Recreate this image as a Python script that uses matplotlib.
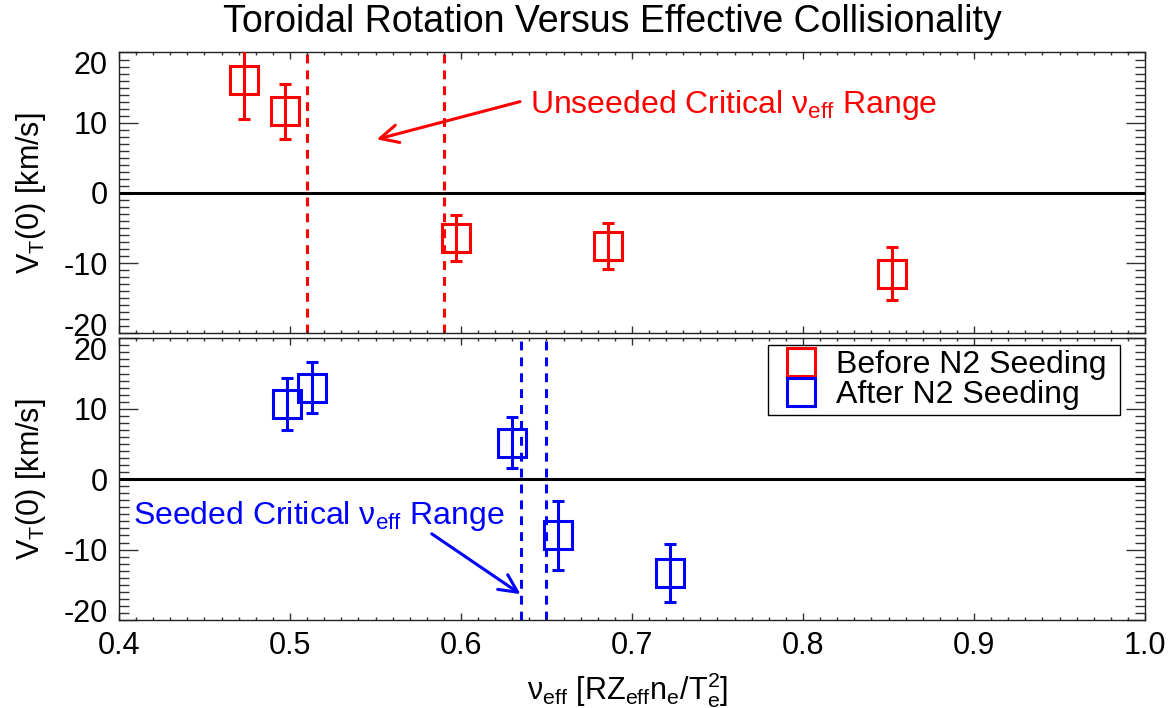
import matplotlib
matplotlib.use("Agg")
import matplotlib.pyplot as plt
import matplotlib.transforms as mtransforms
from matplotlib.lines import Line2D

plt.rcParams['font.family'] = ['Liberation Sans', 'DejaVu Sans']
plt.rcParams['mathtext.fontset'] = 'custom'
plt.rcParams['mathtext.rm'] = 'Liberation Sans'
plt.rcParams['mathtext.it'] = 'Liberation Sans:italic'
plt.rcParams['mathtext.bf'] = 'Liberation Sans:bold'
plt.rcParams['axes.unicode_minus'] = False

# ---- data ----
before_x = [0.473, 0.497, 0.597, 0.686, 0.852]
before_y = [16.1, 11.6, -6.4, -7.6, -11.5]
before_err = [5.6, 3.9, 3.3, 3.3, 3.8]

after_x = [0.498, 0.513, 0.630, 0.657, 0.722]
after_y = [10.7, 13.0, 5.2, -8.0, -13.3]
after_err = [3.7, 3.6, 3.6, 4.9, 4.1]

unseeded_range = [0.51, 0.59]
seeded_range = [0.635, 0.65]

x_ticks = [0.4, 0.5, 0.6, 0.7, 0.8, 0.9, 1.0]
x_ticklabels = ['0.4', '0.5', '0.6', '0.7', '0.8', '0.9', '1.0']
y_ticks = [-20, -10, 0, 10, 20]
y_ticklabels = ['-20', '-10', '0', '10', '20']

title = 'Toroidal Rotation Versus Effective Collisionality'
ylabel = r'V$_\mathrm{T}$(0) [km/s]'
xlabel = r'ν$_\mathrm{eff}$ [RZ$_\mathrm{eff}$n$_\mathrm{e}$/T$_\mathrm{e}^\mathrm{2}$]'
legend_labels = ['Before N2 Seeding ', 'After N2 Seeding ']
unseeded_text = r'Unseeded Critical ν$_\mathrm{eff}$ Range'
seeded_text = r'Seeded Critical ν$_\mathrm{eff}$ Range'

RED = '#ff0000'
BLUE = '#0000ff'
FS = 22

fig = plt.figure(figsize=(11.75, 7.08), dpi=100)
W, H = 1175, 708
ax1 = fig.add_axes([119 / W, 1 - 333.3 / H, 1026 / W, (333.3 - 52.5) / H])
ax2 = fig.add_axes([119 / W, 1 - 620 / H, 1026 / W, (620 - 338.3) / H])

MS = 19.5
LW = 2.2

def style(ax, show_x):
    ax.set_xlim(0.4, 1.0)
    ax.set_ylim(-20, 20)
    ax.set_xticks(x_ticks)
    ax.set_yticks(y_ticks)
    ax.set_yticklabels(y_ticklabels)
    if show_x:
        ax.set_xticklabels(x_ticklabels)
    ax.set_xticks([0.4 + 0.01 * i for i in range(61)], minor=True)
    ax.set_yticks(list(range(-20, 21)), minor=True)
    ax.tick_params(axis='both', which='both', direction='in', top=True, right=True,
                   labelsize=FS, pad=8, color='#333333')
    ax.tick_params(axis='y', which='major', length=14, width=1)
    ax.tick_params(axis='y', which='minor', length=7, width=1)
    ax.tick_params(axis='x', which='major', length=5, width=1)
    ax.tick_params(axis='x', which='minor', length=2.5, width=1)
    ax.tick_params(axis='x', labelbottom=show_x)
    for s in ax.spines.values():
        s.set_linewidth(1.0)
        s.set_color('#222222')
    ax.axhline(0, color='black', lw=2.2, zorder=2)
    ax.set_ylabel(ylabel, fontsize=FS, va='center')
    ax.yaxis.set_label_coords(-0.0858, 0.5)

style(ax1, False)
style(ax2, True)

for xv in unseeded_range:
    ax1.axvline(xv, color=RED, lw=LW, dashes=(2.9, 2.3), zorder=1)
for xv in seeded_range:
    ax2.axvline(xv, color=BLUE, lw=LW, dashes=(2.9, 2.3), zorder=1)

ax1.errorbar(before_x, before_y, yerr=before_err, fmt='s', ms=MS, mfc='none',
             mec=RED, mew=LW, ecolor=RED, elinewidth=LW, capsize=4.3, capthick=LW, zorder=3)
ax2.errorbar(after_x, after_y, yerr=after_err, fmt='s', ms=MS, mfc='none',
             mec=BLUE, mew=LW, ecolor=BLUE, elinewidth=LW, capsize=4.3, capthick=LW, zorder=3)

# annotations
ax1.text(0.6404, 11.39, unseeded_text, color=RED, fontsize=23, ha='left', va='baseline')
ax1.annotate('', xy=(0.5507, 7.63), xytext=(0.6345, 13.0),
             arrowprops=dict(arrowstyle='->,head_length=0.65,head_width=0.32',
                             color=RED, lw=LW, mutation_scale=20, shrinkA=0, shrinkB=0))
ax2.text(0.4083, -6.33, seeded_text, color=BLUE, fontsize=23, ha='left', va='baseline')
ax2.annotate('', xy=(0.6348, -16.33), xytext=(0.5829, -7.76),
             arrowprops=dict(arrowstyle='->,head_length=0.65,head_width=0.32',
                             color=BLUE, lw=LW, mutation_scale=20, shrinkA=0, shrinkB=0))

# legend
handles = [Line2D([], [], marker='s', ls='none', ms=MS, mfc='none', mec=RED, mew=LW),
           Line2D([], [], marker='s', ls='none', ms=MS, mfc='none', mec=BLUE, mew=LW)]
leg = ax2.legend(handles, legend_labels, loc='upper right', bbox_to_anchor=(0.9756, 0.976),
                 fontsize=23, frameon=True, fancybox=False, framealpha=1,
                 edgecolor='black', borderpad=0.15, labelspacing=0.0,
                 handlelength=1.8, handletextpad=0.18, borderaxespad=0)
leg.get_frame().set_linewidth(1.0)

ax2.set_xlabel(xlabel, fontsize=FS, va='center')
ax2.xaxis.set_label_coords(0.496, -0.2485)

fig.text(612 / W, 1 - 22 / H, title, fontsize=27, ha='center', va='center')

# shift the end tick labels (+/-20) inward, as in the reference
fig.canvas.draw()
for ax in (ax1, ax2):
    for tick in ax.yaxis.get_major_ticks():
        loc = tick.get_loc()
        if loc >= 19.9:
            off = mtransforms.ScaledTranslation(0, -0.10, fig.dpi_scale_trans)
        elif loc <= -19.9:
            off = mtransforms.ScaledTranslation(0, 0.09, fig.dpi_scale_trans)
        else:
            continue
        tick.label1.set_transform(tick.label1.get_transform() + off)

fig.savefig('out.png', dpi=100)
